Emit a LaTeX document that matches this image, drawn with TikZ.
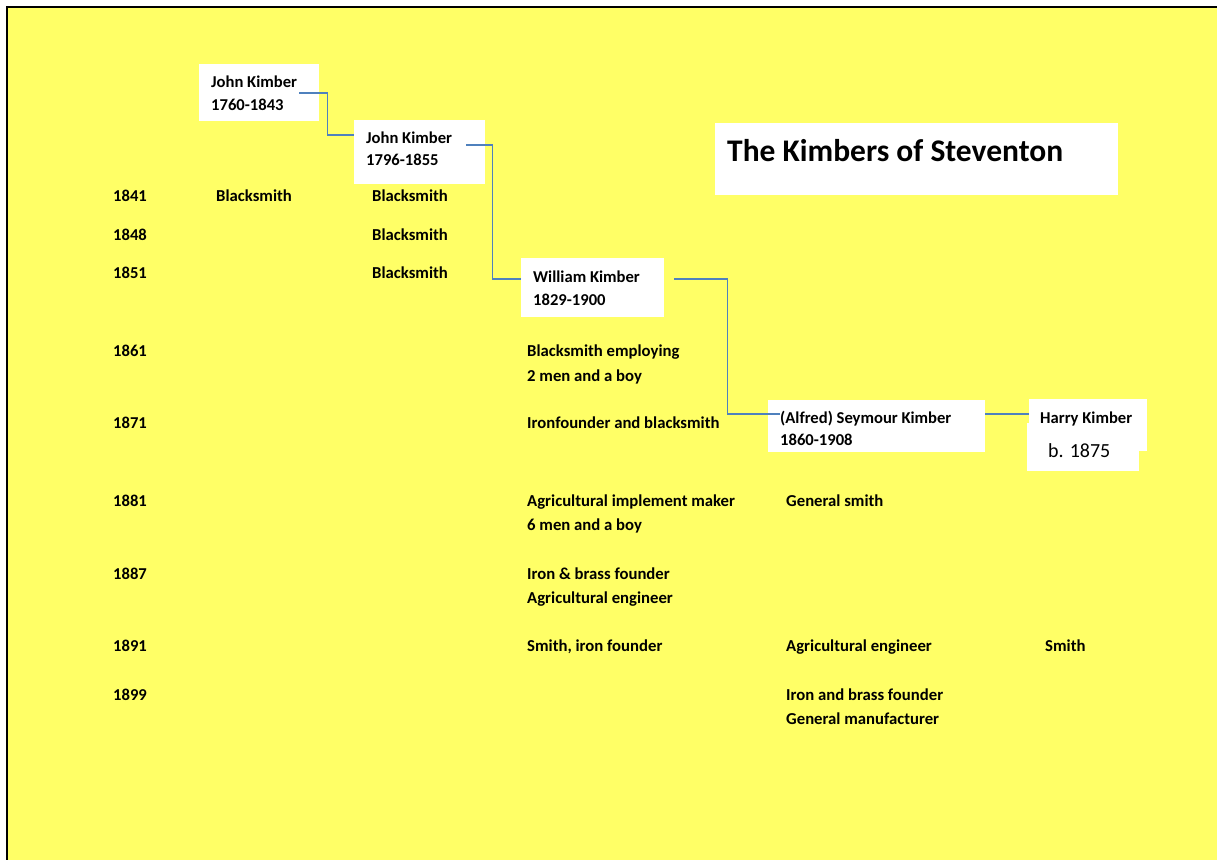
\documentclass[tikz,border=0pt]{standalone}
\usepackage{fontspec}
\setmainfont{Carlito}
\definecolor{bgyellow}{HTML}{FFFF66}
\definecolor{linkblue}{HTML}{4F81BD}
\tikzset{
  whitebox/.style={fill=white, draw=none, anchor=north west, inner sep=0pt},
  person/.style={anchor=base west, inner sep=0pt, font=\fontsize{16.6}{20}\selectfont\bfseries},
  jobtext/.style={anchor=base west, inner sep=0pt, font=\fontsize{16.7}{20}\selectfont\bfseries},
  censusyear/.style={anchor=base west, inner sep=0pt, font=\fontsize{16.6}{20}\selectfont\bfseries},
  link/.style={draw=linkblue, line width=1.3pt}
}
\begin{document}
\begin{tikzpicture}[x=1pt, y=-1pt]
      \clip (0,0) rectangle (1217,859);
      \fill[white] (0,0) rectangle (1217,859);
      \filldraw[fill=bgyellow, draw=black, line width=2pt] (7,7) rectangle (1240,880);

      % boxes
      \node[whitebox, minimum width=120pt, minimum height=57pt] at (199,64)  (jk1box) {};
      \node[whitebox, minimum width=131pt, minimum height=64pt] at (354,120) (jk2box) {};
      \node[whitebox, minimum width=143pt, minimum height=59pt] at (521,258) (wkbox)  {};
      \node[whitebox, minimum width=217pt, minimum height=52pt] at (768,400) (skbox)  {};
      \node[whitebox, minimum width=118pt, minimum height=52pt] at (1029,399) (hkbox) {};
      \node[whitebox, minimum width=112pt, minimum height=48pt] at (1027,423) (hbbox) {};
      \node[whitebox, minimum width=403pt, minimum height=72pt] at (715,123) (titlebox) {};

      % people
      \node[person] at (211,87)  (jk1)   {John Kimber};
      \node[censusyear] at (211,110) (jk1yr) {1760-1843};
      \node[person] at (366,143) (jk2)   {John Kimber};
      \node[censusyear] at (366,165) (jk2yr) {1796-1855};
      \node[person] at (533,282) (wk)    {William Kimber};
      \node[censusyear] at (533,305) (wkyr)  {1829-1900};
      \node[person] at (780,423) (sk)    {(Alfred) Seymour Kimber};
      \node[censusyear] at (780,445) (skyr)  {1860-1908};
      \node[person] at (1040,423) (hk)   {Harry Kimber};
      \node[anchor=base west, inner sep=0pt, font=\fontsize{20}{24}\selectfont] at (1048,457) (hkyr) {b. 1875};
      \node[anchor=base west, inner sep=0pt, font=\fontsize{31.5}{36}\selectfont\bfseries] at (727,161) (title) {The Kimbers of Steventon};

      % census years
      \node[censusyear] at (113,201) (y1841) {1841};
      \node[censusyear] at (113,240) (y1848) {1848};
      \node[censusyear] at (113,278) (y1851) {1851};
      \node[censusyear] at (113,356) (y1861) {1861};
      \node[censusyear] at (113,428) (y1871) {1871};
      \node[censusyear] at (113,506) (y1881) {1881};
      \node[censusyear] at (113,579) (y1887) {1887};
      \node[censusyear] at (113,651) (y1891) {1891};
      \node[censusyear] at (113,700) (y1899) {1899};

      % occupations
      \node[jobtext] at (216,201) (jk1a) {Blacksmith};
      \node[jobtext] at (372,201) (jk2a) {Blacksmith};
      \node[jobtext] at (372,240) (jk2b) {Blacksmith};
      \node[jobtext] at (372,278) (jk2c) {Blacksmith};
      \node[jobtext] at (527,356) (wka)  {Blacksmith employing};
      \node[jobtext] at (527,381) (wkb)  {2 men and a boy};
      \node[jobtext] at (527,428) (wkc)  {Ironfounder and blacksmith};
      \node[jobtext] at (527,506) (wkd)  {Agricultural implement maker};
      \node[jobtext] at (527,530) (wke)  {6 men and a boy};
      \node[jobtext] at (527,579) (wkf)  {Iron \& brass founder};
      \node[jobtext] at (527,603) (wkg)  {Agricultural engineer};
      \node[jobtext] at (527,651) (wkh)  {Smith, iron founder};
      \node[jobtext] at (786,506) (ska)  {General smith};
      \node[jobtext] at (786,651) (skb)  {Agricultural engineer};
      \node[jobtext] at (786,700) (skc)  {Iron and brass founder};
      \node[jobtext] at (786,724) (skd)  {General manufacturer};
      \node[jobtext] at (1045,651) (hka) {Smith};

      % descent lines
      \draw[link] ([shift={(2pt,-6pt)}]jk1.base east) -| ++(28,42) -- (jk2box.west |- 0,135);
      \draw[link] ([shift={(14pt,-2pt)}]jk2.base east) -| ++(26,134) -- (wkbox.west |- 0,279);
      \draw[link] ([xshift=10pt]wkbox.east |- 0,279) -| ++(53,135) -- (sk.west |- 0,414);
      \draw[link] (skbox.east |- 0,414) -- (hkbox.west |- 0,414);
    \end{tikzpicture}
\end{document}
